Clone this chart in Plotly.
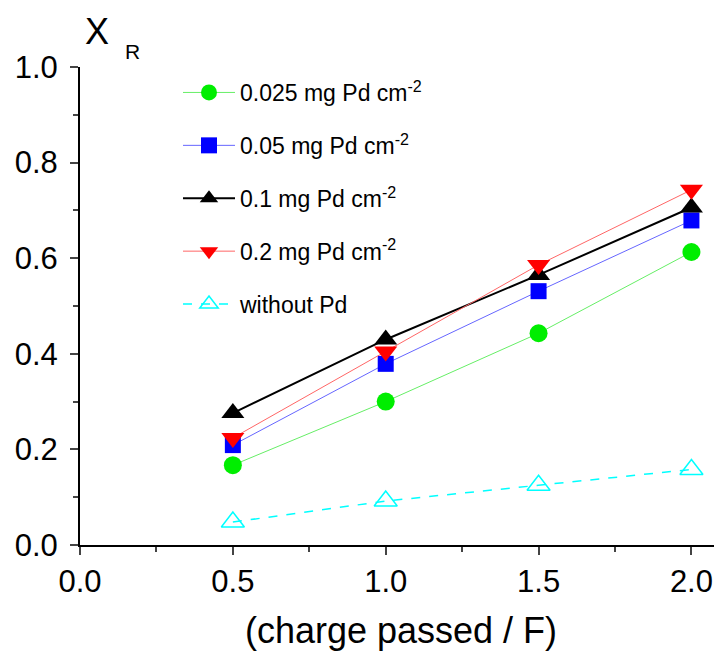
import plotly.graph_objects as go

charge = [0.5, 1.0, 1.5, 2.0]
pd_0025 = [0.167, 0.300, 0.443, 0.613]
pd_005 = [0.209, 0.379, 0.531, 0.679]
pd_01 = [0.276, 0.430, 0.565, 0.706]
pd_02 = [0.224, 0.405, 0.586, 0.743]
no_pd = [0.048, 0.092, 0.125, 0.158]

names = ["0.025 mg Pd cm<sup>-2</sup>", "0.05 mg Pd cm<sup>-2</sup>",
         "0.1 mg Pd cm<sup>-2</sup>", "0.2 mg Pd cm<sup>-2</sup>", "without Pd"]

fig = go.Figure()
specs = [
    (pd_0025, "#00ee00", "circle", 18, "solid", 1),
    (pd_005, "#0000ff", "square", 16, "solid", 1),
    (pd_01, "#000000", "triangle-up", 20, "solid", 2),
    (pd_02, "#ff0000", "triangle-down", 20, "solid", 1),
    (no_pd, "#00ffff", "triangle-up-open", 20, "dash", 1.5),
]
line_colors = ["#66ee66", "#6666ff", "#000000", "#ff6666", "#00ffff"]
for i, ((vals, col, sym, sz, dash, lw), nm, lc) in enumerate(zip(specs, names, line_colors)):
    fig.add_trace(go.Scatter(
        x=charge, y=vals, name=nm, mode="lines+markers", legendgroup=f"g{i}",
        line=dict(color=lc, width=lw, dash=dash),
        marker=dict(color=col, symbol=sym, size=sz,
                    line=dict(width=1.5, color=col) if "open" in sym else dict(width=0)),
    ))

# page is offset by the 8px body margin; margins compensate
L, T, W, H = 72, 59, 642, 478
font = "Arial, Liberation Sans, sans-serif"
fig.update_layout(
    width=722, height=657,
    margin=dict(l=L, r=8, t=T, b=657 - T - H),
    paper_bgcolor="white", plot_bgcolor="white",
    font=dict(family=font, color="black"),
    showlegend=True,
    legend=dict(x=(170 - L) / W, y=1 + (T - 63) / H, xanchor="left", yanchor="top",
                font=dict(size=23, family=font), tracegroupgap=20, itemwidth=52,
                bgcolor="rgba(0,0,0,0)", itemsizing="trace"),
    xaxis=dict(range=[0, 2.1], tickvals=[0, 0.5, 1.0, 1.5, 2.0],
               ticktext=["0.0", "0.5", "1.0", "1.5", "2.0"], automargin=False,
               ticks="outside", ticklen=8, tickwidth=2, showline=True, linewidth=2,
               linecolor="black", showgrid=False, zeroline=False,
               tickfont=dict(size=31, family=font),
               minor=dict(ticks="outside", ticklen=5, tickwidth=1.5, dtick=0.25, tick0=0),
               title=dict(text="(charge passed / F)", font=dict(size=36, family=font), standoff=20)),
    yaxis=dict(range=[0, 1.0], tickvals=[0, 0.2, 0.4, 0.6, 0.8, 1.0],
               ticktext=["0.0", "0.2", "0.4", "0.6", "0.8", "1.0"], automargin=False,
               ticks="outside", ticklen=8, tickwidth=2, showline=True, linewidth=2,
               linecolor="black", showgrid=False, zeroline=False, ticklabelstandoff=6,
               tickfont=dict(size=31, family=font),
               minor=dict(ticks="outside", ticklen=5, tickwidth=1.5, dtick=0.1, tick0=0)),
)
fig.add_annotation(text="X", xref="paper", yref="paper", x=(89 - L) / W, y=1 + (T - 24) / H,
                   showarrow=False, font=dict(size=36, family=font), xanchor="center", yanchor="middle")
fig.add_annotation(text="R", xref="paper", yref="paper", x=(124 - L) / W, y=1 + (T - 44) / H,
                   showarrow=False, font=dict(size=21, family=font), xanchor="center", yanchor="middle")

fig.write_html("out.html")
